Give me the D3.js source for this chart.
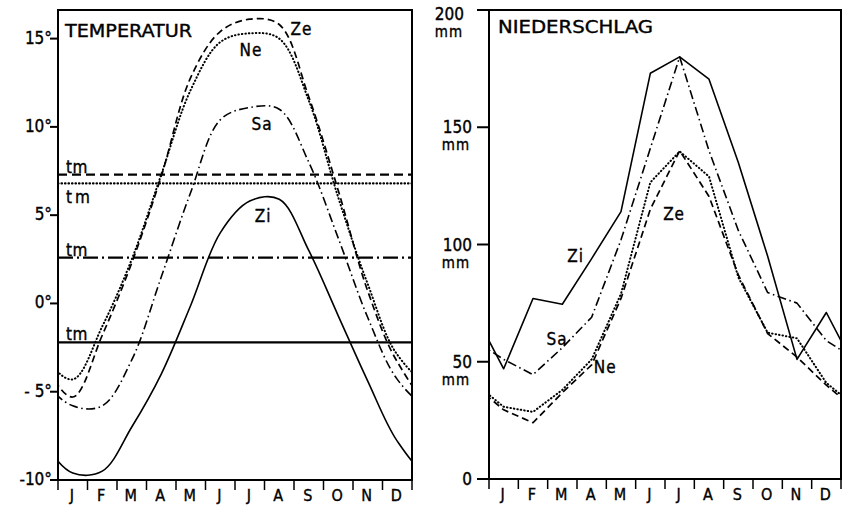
<!DOCTYPE html>
<html>
<head>
  <meta charset="utf-8">
  <title>Temperatur und Niederschlag</title>
  <script src="https://d3js.org/d3.v7.min.js"></script>
  <style>
    body { margin: 0; background: #fff; }
    text { font-family: "DejaVu Sans Condensed", "DejaVu Sans", sans-serif; fill: #000; stroke: #000; stroke-width: 0.35px; }
  </style>
</head>
<body>
  <svg width="846" height="505"></svg>
  <script>
    const months = ["J", "F", "M", "A", "M", "J", "J", "A", "S", "O", "N", "D"];

    // monthly mean temperature (°C)
    const tempZe = [-5.3, -1.8, 2.3, 7.2, 12.8, 15.4, 16.1, 15.8, 11.7, 6.4, 0.7, -3.3];
    const tempNe = [-4.3, -1.3, 2.5, 7.3, 12.1, 14.8, 15.3, 15.0, 11.5, 6.0, 1.1, -2.9];
    const tempSa = [-5.8, -5.8, -3.2, 1.5, 6.3, 10.4, 11.1, 11.0, 8.0, 3.7, -0.8, -4.3];
    const tempZi = [-9.6, -9.5, -7.0, -4.0, -0.1, 4.0, 5.8, 5.9, 3.0, -0.7, -4.4, -7.8];
    // annual means (t_m)
    const meanNames = ["Ze", "Ne", "Sa", "Zi"];
    const meanValues = [7.3, 6.8, 2.6, -2.2];

    // monthly precipitation (mm)
    const precZi = [47, 77, 74.5, 94, 114, 173, 180, 170.5, 135, 95, 51, 71];
    const precSa = [51, 44.5, 56, 69, 102, 141, 180, 140, 106, 79.5, 75, 59];
    const precNe = [30.8, 28.6, 38, 51, 79, 126.5, 139.7, 129, 86, 62.4, 60, 41];
    const precZe = [29.5, 24, 36.8, 48.7, 77, 115, 140, 120.5, 87, 62, 52, 40];

    const tempTicks = [15, 10, 5, 0, -5, -10];
    const tempTickLabels = ["15°", "10°", "5°", "0°", "- 5°", "-10°"];
    const precTicks = [200, 150, 100, 50, 0];
    const precTickLabels = ["200", "150", "100", "50", "0"];

    const svg = d3.select("svg");

    const styles = {
      Ze: { dash: "7,4", width: 1.7, cap: "butt" },
      Ne: { dash: "0.5,3", width: 2, cap: "round" },
      Sa: { dash: "9,3.5,1.5,3.5", width: 1.6, cap: "butt" },
      Zi: { dash: null, width: 1.6, cap: "butt" }
    };
    const meanStyles = {
      Ze: { dash: "9,5", width: 2.2, cap: "butt" },
      Ne: { dash: "0.5,3", width: 2.2, cap: "round" },
      Sa: { dash: "15,4,2,4", width: 2.2, cap: "butt" },
      Zi: { dash: null, width: 2.2, cap: "butt" }
    };

    // months wrapped on both sides so the year-cycle continues past the frame
    function wrap(vals) {
      const pts = vals.map((v, i) => [i + 0.5, v]);
      return [[-1.5, vals[10]], [-0.5, vals[11]], ...pts, [12.5, vals[0]], [13.5, vals[1]]];
    }

    function panel(box, yDomain, clipId) {
      const x = d3.scaleLinear().domain([0, 12]).range([box.left, box.right]);
      const y = d3.scaleLinear().domain(yDomain).range([box.bottom, box.top]);
      svg.append("clipPath").attr("id", clipId)
        .append("rect")
        .attr("x", box.left).attr("y", box.top)
        .attr("width", box.right - box.left).attr("height", box.bottom - box.top);

      // month ticks and labels
      const g = svg.append("g");
      g.selectAll("line.mt").data(d3.range(13)).enter().append("line")
        .attr("x1", d => x(d)).attr("x2", d => x(d))
        .attr("y1", box.bottom).attr("y2", box.bottom + 10)
        .attr("stroke", "#000").attr("stroke-width", 1.5);
      g.selectAll("text.mt").data(months).enter().append("text")
        .attr("x", (d, i) => x(i + 0.5) - 1)
        .attr("y", box.bottom + 21)
        .attr("text-anchor", "middle")
        .attr("font-size", 16)
        .text(d => d);
      return { x, y, g };
    }

    function draw(p, vals, st, clipId, curve) {
      const line = d3.line().x(d => p.x(d[0])).y(d => p.y(d[1])).curve(curve);
      svg.append("path")
        .attr("clip-path", `url(#${clipId})`)
        .attr("d", line(wrap(vals)))
        .attr("fill", "none")
        .attr("stroke", "#000")
        .attr("stroke-width", st.width)
        .attr("stroke-linecap", st.cap)
        .attr("stroke-linejoin", "round")
        .attr("stroke-dasharray", st.dash);
    }

    function frame(box) {
      svg.append("rect")
        .attr("x", box.left).attr("y", box.top)
        .attr("width", box.right - box.left).attr("height", box.bottom - box.top)
        .attr("fill", "none").attr("stroke", "#000").attr("stroke-width", 2);
    }

    // ---------- TEMPERATUR ----------
    const tBox = { left: 58, right: 412, top: 10, bottom: 480 };
    const tp = panel(tBox, [-10, 16.62], "clipT");

    svg.selectAll("line.tm").data(meanValues).enter().append("line")
      .attr("x1", tBox.left).attr("x2", tBox.right)
      .attr("y1", d => tp.y(d)).attr("y2", d => tp.y(d))
      .attr("stroke", "#000")
      .attr("stroke-width", (d, i) => meanStyles[meanNames[i]].width)
      .attr("stroke-linecap", (d, i) => meanStyles[meanNames[i]].cap)
      .attr("stroke-dasharray", (d, i) => meanStyles[meanNames[i]].dash);

    const curve = d3.curveCatmullRom.alpha(0.5);
    draw(tp, tempZe, styles.Ze, "clipT", curve);
    draw(tp, tempNe, styles.Ne, "clipT", curve);
    draw(tp, tempSa, styles.Sa, "clipT", curve);
    draw(tp, tempZi, styles.Zi, "clipT", curve);
    frame(tBox);

    svg.selectAll("line.tt").data(tempTicks).enter().append("line")
      .attr("x1", tBox.left - 8).attr("x2", tBox.left)
      .attr("y1", d => tp.y(d)).attr("y2", d => tp.y(d))
      .attr("stroke", "#000").attr("stroke-width", 2);
    svg.selectAll("text.tt").data(tempTicks).enter().append("text")
      .attr("x", tBox.left - 6)
      .attr("y", d => tp.y(d) + 5)
      .attr("text-anchor", "end")
      .attr("font-size", 17)
      .text((d, i) => tempTickLabels[i]);

    svg.append("text").attr("x", 65).attr("y", 37)
      .attr("font-size", 18).attr("textLength", 127).attr("lengthAdjust", "spacingAndGlyphs")
      .text("TEMPERATUR");

    // t_m labels: above the line, the dotted one below
    const tmOffsets = [-2, 20, -2, -2];
    svg.selectAll("text.tm").data(meanValues).enter().append("text")
      .attr("x", 66)
      .attr("y", (d, i) => tp.y(d) + tmOffsets[i])
      .attr("font-size", 17)
      .attr("letter-spacing", (d, i) => i === 1 ? 3 : 0.5)
      .text("tm");

    const tempLabels = [["Ze", 8.25, 15.2], ["Ne", 6.54, 14.0], ["Sa", 6.92, 9.85], ["Zi", 6.95, 4.64]];
    svg.selectAll("text.tl").data(tempLabels).enter().append("text")
      .attr("x", d => tp.x(d[1])).attr("y", d => tp.y(d[2]))
      .attr("text-anchor", "middle").attr("font-size", 17)
      .attr("letter-spacing", 1)
      .text(d => d[0]);

    // ---------- NIEDERSCHLAG ----------
    const pBox = { left: 489, right: 841, top: 10, bottom: 479 };
    const pp = panel(pBox, [0, 200], "clipP");
    draw(pp, precZe, styles.Ze, "clipP", d3.curveLinear);
    draw(pp, precNe, styles.Ne, "clipP", d3.curveLinear);
    draw(pp, precSa, styles.Sa, "clipP", d3.curveLinear);
    draw(pp, precZi, styles.Zi, "clipP", d3.curveLinear);
    frame(pBox);

    svg.selectAll("line.pt").data(precTicks).enter().append("line")
      .attr("x1", pBox.left - 12).attr("x2", pBox.left)
      .attr("y1", d => pp.y(d)).attr("y2", d => pp.y(d))
      .attr("stroke", "#000").attr("stroke-width", 2);
    svg.selectAll("text.pt").data(precTicks).enter().append("text")
      .attr("x", d => d === 200 ? 464 : 472)
      .attr("y", d => Math.max(pp.y(d) + 6, 20))
      .attr("text-anchor", "end")
      .attr("font-size", 17)
      .text((d, i) => precTickLabels[i]);
    svg.selectAll("text.mm").data(precTicks.filter(d => d > 0)).enter().append("text")
      .attr("x", d => d === 200 ? 449 : 456)
      .attr("y", d => Math.max(pp.y(d) + 6, 20) + 17)
      .attr("text-anchor", "middle")
      .attr("font-size", 15)
      .attr("letter-spacing", 1)
      .text("mm");

    svg.append("text").attr("x", 498).attr("y", 33)
      .attr("font-size", 17).attr("textLength", 155).attr("lengthAdjust", "spacingAndGlyphs")
      .text("NIEDERSCHLAG");

    const precLabels = [["Zi", 2.95, 92.5], ["Sa", 2.32, 57], ["Ne", 3.96, 45], ["Ze", 6.31, 110.5]];
    svg.selectAll("text.pl").data(precLabels).enter().append("text")
      .attr("x", d => pp.x(d[1])).attr("y", d => pp.y(d[2]))
      .attr("text-anchor", "middle").attr("font-size", 17)
      .attr("letter-spacing", 1)
      .text(d => d[0]);
  </script>
</body>
</html>
